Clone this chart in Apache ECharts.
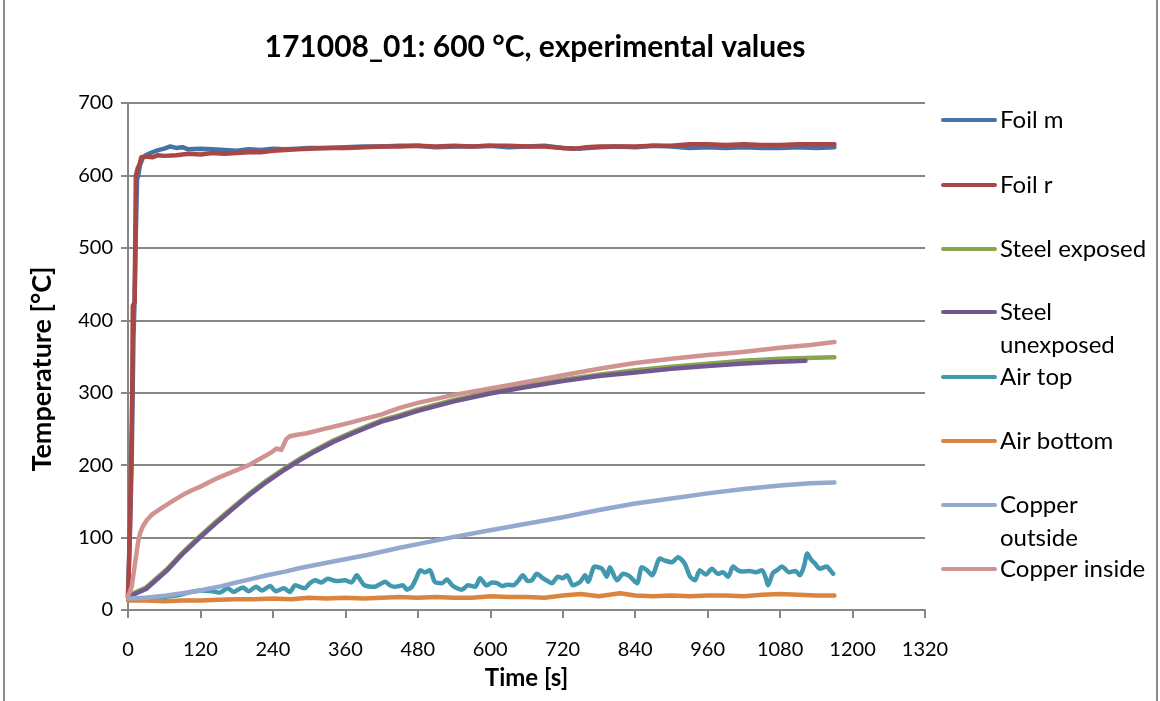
<!DOCTYPE html>
<html>
<head>
<meta charset="utf-8">
<script src="https://cdn.jsdelivr.net/npm/echarts@6/dist/echarts.min.js"></script>
<style>
  html, body { margin: 0; padding: 0; background: #ffffff; }
  #chart { width: 1160px; height: 701px; }
</style>
</head>
<body>
<div id="chart"></div>
<script>
// Temperature records of test 171008_01 (time in s, temperature in °C)
const xTicks = [0, 120, 240, 360, 480, 600, 720, 840, 960, 1080, 1200, 1320];
const yTicks = [0, 100, 200, 300, 400, 500, 600, 700];

const seriesNames = ['Foil m', 'Foil r', 'Steel exposed', 'Steel unexposed', 'Air top', 'Air bottom', 'Copper outside', 'Copper inside'];
const legendLabels = ['Foil m', 'Foil r', 'Steel exposed', 'Steel\nunexposed', 'Air top', 'Air bottom', 'Copper\noutside', 'Copper inside'];
const seriesColors = ['#4572A7', '#AA4643', '#89A54E', '#71588F', '#4198AF', '#DB843D', '#93A9CF', '#D19392'];

const foilMTime = [0, 2, 4, 6, 9, 11, 13, 15, 17, 20, 25, 30, 40, 50, 60, 70, 80, 90, 100, 120, 140, 160, 180, 200, 220, 240, 260, 280, 300, 330, 360, 390, 420, 450, 480, 510, 540, 570, 600, 630, 660, 690, 720, 750, 780, 810, 840, 870, 900, 930, 960, 990, 1020, 1050, 1080, 1110, 1140, 1170];
const foilMTemp = [20, 22, 135, 200, 375, 430, 520, 595, 600, 615, 625, 628, 632, 635, 637, 640, 638, 639, 636, 637, 636, 635, 634, 636, 635, 637, 636, 637, 638, 638, 639, 640, 640, 641, 641, 639, 640, 640, 641, 639, 640, 641, 638, 637, 639, 640, 639, 641, 640, 638, 639, 638, 639, 638, 638, 639, 638, 639];

const foilRTime = [0, 3, 5, 7, 8, 11, 13, 16, 19, 22, 30, 40, 50, 60, 80, 100, 120, 140, 160, 180, 200, 220, 240, 260, 280, 300, 330, 360, 390, 420, 450, 480, 510, 540, 570, 600, 630, 660, 690, 720, 740, 760, 780, 810, 840, 870, 900, 930, 960, 990, 1020, 1050, 1080, 1110, 1140, 1170];
const foilRTemp = [18, 100, 200, 300, 420, 425, 600, 610, 615, 625, 626, 625, 628, 627, 628, 630, 629, 631, 630, 631, 632, 632, 634, 635, 636, 637, 638, 638, 639, 640, 640, 641, 640, 641, 640, 641, 641, 640, 640, 638, 637, 639, 640, 640, 640, 641, 641, 643, 643, 642, 643, 642, 642, 643, 643, 643];

const steelExpTime = [0, 30, 64, 90, 119, 150, 174, 200, 230, 260, 285, 310, 340, 370, 396, 420, 450, 480, 540, 600, 660, 720, 780, 840, 900, 960, 1020, 1080, 1124, 1170];
const steelExpTemp = [20, 31, 56, 79, 102, 125, 142, 160, 179, 196, 209, 221, 234, 245, 254, 262, 269, 277, 290, 301, 310, 318, 325, 331, 336, 340, 344, 347, 348, 349];

const steelUnexpTime = [0, 30, 64, 90, 119, 150, 174, 200, 230, 260, 285, 310, 340, 370, 396, 420, 450, 480, 540, 600, 660, 720, 780, 840, 900, 960, 1014, 1060, 1122];
const steelUnexpTemp = [18, 29, 54, 77, 100, 123, 140, 158, 177, 194, 207, 219, 232, 243, 252, 260, 267, 275, 288, 299, 308, 316, 323, 328, 333, 337, 340, 342, 344];

const airTopTime = [0, 40, 80, 100, 120, 140, 152, 165, 175, 190, 200, 212, 222, 235, 245, 258, 268, 277, 293, 300, 310, 320, 331, 345, 359, 370, 379, 386, 392, 409, 418, 426, 434, 442, 455, 462, 470, 478, 484, 492, 500, 508, 520, 528, 537, 545, 553, 563, 575, 583, 594, 603, 611, 620, 628, 638, 646, 654, 662, 669, 677, 687, 695, 702, 712, 720, 727, 737, 749, 757, 762, 773, 785, 793, 798, 810, 820, 830, 843, 851, 858, 868, 881, 890, 901, 911, 922, 931, 939, 947, 957, 967, 977, 985, 994, 1002, 1010, 1017, 1030, 1040, 1050, 1056, 1060, 1068, 1075, 1083, 1095, 1105, 1113, 1120, 1125, 1131, 1138, 1146, 1157, 1163, 1168];
const airTopTemp = [16, 17, 20, 24, 27, 26, 24, 30, 25, 31, 26, 32, 27, 33, 26, 30, 25, 34, 30, 36, 41, 38, 43, 40, 41, 38, 48, 40, 34, 32, 36, 39, 34, 32, 34, 28, 32, 45, 55, 52, 55, 39, 37, 42, 34, 30, 28, 34, 32, 44, 34, 38, 37, 33, 35, 34, 40, 48, 40, 41, 50, 44, 40, 37, 46, 44, 48, 34, 39, 48, 39, 60, 57, 46, 59, 41, 50, 47, 37, 59, 56, 48, 71, 68, 66, 73, 64, 46, 41, 55, 49, 57, 50, 52, 46, 60, 55, 53, 54, 52, 55, 45, 34, 51, 55, 60, 52, 54, 48, 62, 78, 70, 64, 57, 60, 55, 50];

const airBottomTime = [0, 30, 60, 90, 120, 150, 180, 210, 240, 270, 300, 330, 360, 390, 420, 450, 480, 510, 540, 570, 600, 630, 660, 690, 720, 750, 780, 815, 840, 870, 900, 930, 960, 990, 1020, 1050, 1080, 1110, 1140, 1170];
const airBottomTemp = [13, 13, 12, 13, 13, 14, 15, 15, 16, 15, 17, 16, 17, 16, 17, 18, 17, 18, 17, 17, 19, 18, 18, 17, 20, 22, 19, 23, 20, 19, 20, 19, 20, 20, 19, 21, 22, 21, 20, 20];

const copperOutTime = [0, 30, 64, 90, 119, 150, 174, 200, 230, 260, 285, 340, 396, 450, 480, 540, 600, 660, 720, 780, 840, 900, 960, 1020, 1080, 1130, 1170];
const copperOutTemp = [16, 17, 20, 23, 27, 32, 37, 42, 48, 53, 58, 67, 76, 86, 91, 101, 110, 119, 128, 138, 147, 154, 161, 167, 172, 175, 176];

const copperInTime = [0, 3, 6, 10, 14, 17, 20, 25, 31, 40, 58, 75, 91, 105, 119, 145, 174, 200, 215, 230, 238, 246, 254, 262, 268, 280, 296, 320, 340, 370, 396, 420, 450, 480, 540, 600, 660, 720, 780, 840, 900, 960, 1014, 1080, 1130, 1170];
const copperInTemp = [20, 25, 32, 55, 78, 95, 106, 116, 124, 132, 142, 151, 159, 165, 170, 181, 191, 200, 207, 214, 218, 223, 221, 236, 240, 242, 244, 249, 253, 259, 265, 270, 279, 286, 297, 306, 315, 324, 333, 341, 347, 352, 356, 362, 366, 370];

const seriesTimes = [foilMTime, foilRTime, steelExpTime, steelUnexpTime, airTopTime, airBottomTime, copperOutTime, copperInTime];
const seriesTemps = [foilMTemp, foilRTemp, steelExpTemp, steelUnexpTemp, airTopTemp, airBottomTemp, copperOutTemp, copperInTemp];

const FONT = 'Lato, "Open Sans", sans-serif';
const GRAY = '#868686';

const chart = echarts.init(document.getElementById('chart'), null, { renderer: 'canvas' });

const series = seriesNames.map((name, i) => ({
  name: name,
  type: 'line',
  showSymbol: false,
  symbol: 'none',
  smooth: name === 'Air top' ? 0.25 : false,
  data: seriesTimes[i].map((t, k) => [t, seriesTemps[i][k]]),
  lineStyle: { color: seriesColors[i], width: 4.5, cap: 'round', join: 'round' },
  itemStyle: { color: seriesColors[i] },
  emphasis: { disabled: true }
}));

// Legend on the right: a short line swatch followed by the label
const legendY = [120, 185, 249, 312, 377, 441, 505, 569];
const legendGraphics = [];
seriesNames.forEach((name, i) => {
  legendGraphics.push({
    type: 'line',
    shape: { x1: 943, y1: legendY[i], x2: 995, y2: legendY[i] },
    style: { stroke: seriesColors[i], lineWidth: 4, lineCap: 'round' },
    silent: true
  });
  legendGraphics.push({
    type: 'text',
    x: 1000,
    y: legendY[i] - 16,
    style: {
      text: legendLabels[i],
      font: '24px ' + FONT,
      fill: '#000000',
      lineHeight: 33,
      verticalAlign: 'top'
    },
    silent: true
  });
});

// Vertical axis title
legendGraphics.push({
  type: 'text',
  x: 42,
  y: 369,
  rotation: Math.PI / 2,
  style: {
    text: 'Temperature [°C]',
    font: 'bold 27px ' + FONT,
    fill: '#000000',
    align: 'center',
    verticalAlign: 'middle'
  },
  silent: true
});

const option = {
  animation: false,
  backgroundColor: '#ffffff',
  title: {
    text: '171008_01: 600 °C, experimental values',
    left: 530,
    top: 27,
    textAlign: 'center',
    textStyle: { fontFamily: FONT, fontSize: 30, fontWeight: 'bold', color: '#000000' }
  },
  grid: { left: 128, right: 235, top: 103, bottom: 91, containLabel: false, outerBoundsMode: 'none' },
  xAxis: {
    type: 'value',
    min: 0,
    max: 1320,
    interval: 120,
    name: 'Time [s]',
    nameLocation: 'middle',
    nameGap: 56,
    nameTextStyle: { fontFamily: FONT, fontSize: 24, fontWeight: 'bold', color: '#000000' },
    axisLine: { show: true, onZero: false, lineStyle: { color: GRAY, width: 2 } },
    axisTick: { show: true, inside: false, length: 8, lineStyle: { color: GRAY, width: 2 } },
    axisLabel: {
      margin: 30,
      fontFamily: FONT,
      fontSize: 20,
      color: '#000000',
      formatter: v => (xTicks.indexOf(v) >= 0 ? String(v) : '')
    },
    splitLine: { show: false }
  },
  yAxis: {
    type: 'value',
    min: 0,
    max: 700,
    interval: 100,
    axisLine: { show: true, lineStyle: { color: GRAY, width: 2 } },
    axisTick: { show: true, inside: false, length: 7, lineStyle: { color: GRAY, width: 2 } },
    axisLabel: {
      margin: 15,
      fontFamily: FONT,
      fontSize: 20,
      color: '#000000',
      formatter: v => (yTicks.indexOf(v) >= 0 ? String(v) : '')
    },
    splitLine: { show: true, lineStyle: { color: GRAY, width: 2 } }
  },
  series: series,
  graphic: [
    {
      type: 'rect',
      shape: { x: 4, y: -3, width: 1153, height: 708 },
      style: { fill: 'none', stroke: '#8c8c8c', lineWidth: 2 },
      silent: true,
      z: -1
    }
  ].concat(legendGraphics)
};

chart.setOption(option);
</script>
</body>
</html>
